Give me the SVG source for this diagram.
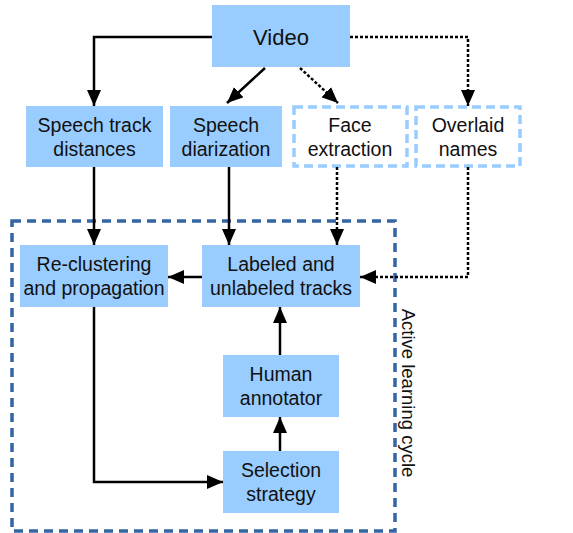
<svg xmlns="http://www.w3.org/2000/svg" width="573" height="533" viewBox="0 0 573 533">
<defs>
<marker id="ah" viewBox="0 0 16 14" refX="16" refY="7" markerWidth="16" markerHeight="14" markerUnits="userSpaceOnUse" orient="auto">
<path d="M0,0 L16,7 L0,14 Z" fill="#000"/>
</marker>
</defs>
<style>
.box{fill:#99ccff;stroke:none}
.dbox{fill:#fff;stroke:#99ccff;stroke-width:3.5;stroke-dasharray:9,5}
.t{font-family:"Liberation Sans",Arial,sans-serif;font-size:19.5px;fill:#111;text-anchor:middle}
.c{fill:none;stroke:#000;stroke-width:2.5;marker-end:url(#ah)}
.d{stroke-dasharray:3,2}
</style>
<rect x="12" y="221" width="383" height="310" fill="none" stroke="#3465a4" stroke-width="3.5" stroke-dasharray="9,6"/>
<text class="t" transform="translate(402,393) rotate(90)" style="font-size:18.5px">Active learning cycle</text>
<g id="n-video"><rect class="box" x="212" y="5" width="138" height="62"/><text class="t" x="281" y="45" style="font-size:22px">Video</text></g>
<g id="n-std"><rect class="box" x="26" y="106" width="137" height="61"/><text class="t" x="94.5" y="132">Speech track</text><text class="t" x="94.5" y="156">distances</text></g>
<g id="n-sd"><rect class="box" x="170" y="106" width="112" height="61"/><text class="t" x="226" y="132">Speech</text><text class="t" x="226" y="156">diarization</text></g>
<g id="n-fe"><rect class="dbox" x="294" y="107" width="113" height="59"/><text class="t" x="350" y="132">Face</text><text class="t" x="350" y="156">extraction</text></g>
<g id="n-on"><rect class="dbox" x="416" y="107" width="104" height="59"/><text class="t" x="468" y="132">Overlaid</text><text class="t" x="468" y="156">names</text></g>
<g id="n-rc"><rect class="box" x="20" y="245" width="148" height="62"/><text class="t" x="94" y="271">Re-clustering</text><text class="t" x="94" y="295">and propagation</text></g>
<g id="n-lt"><rect class="box" x="202" y="245" width="158" height="62"/><text class="t" x="281" y="271">Labeled and</text><text class="t" x="281" y="295">unlabeled tracks</text></g>
<g id="n-ha"><rect class="box" x="223" y="355" width="116" height="62"/><text class="t" x="281" y="381">Human</text><text class="t" x="281" y="405">annotator</text></g>
<g id="n-ss"><rect class="box" x="223" y="451" width="116" height="62"/><text class="t" x="281" y="477">Selection</text><text class="t" x="281" y="501">strategy</text></g>
<g id="connectors">
<path class="c" d="M212,37 H94 V106"/>
<path class="c" d="M265,68 L227,103"/>
<path class="c d" d="M300,68 L338,103"/>
<path class="c d" d="M350,37 H468 V106"/>
<path class="c" d="M94,167 V245"/>
<path class="c" d="M229,167 V245"/>
<path class="c d" d="M337,167 V245"/>
<path class="c d" d="M468,167 V277 H360"/>
<path class="c" d="M202,277 H168"/>
<path class="c" d="M280,355 V307"/>
<path class="c" d="M280,451 V417"/>
<path class="c" d="M94,307 V482 H223"/>
</g>
</svg>
